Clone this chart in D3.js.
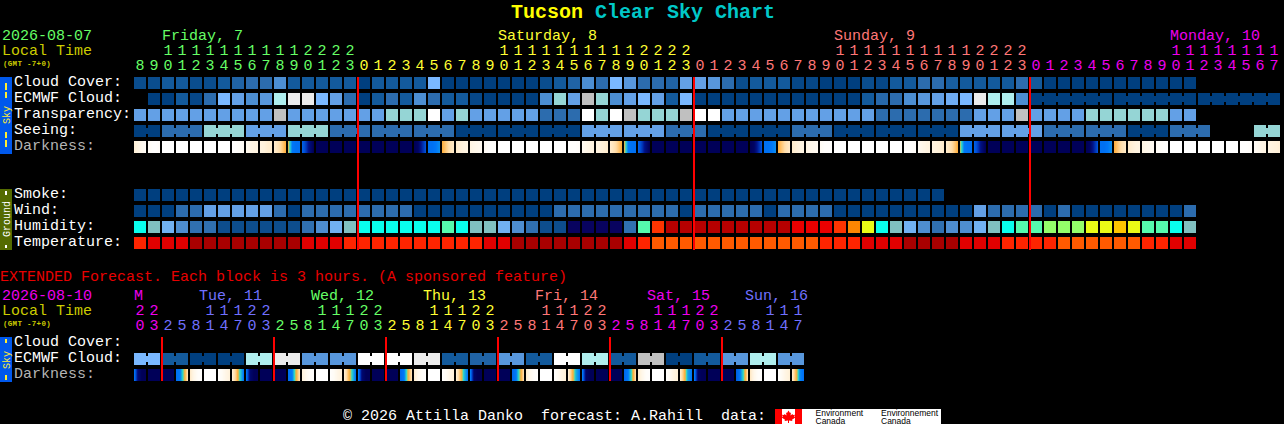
<!DOCTYPE html>
<html><head><meta charset="utf-8">
<script src="https://cdnjs.cloudflare.com/ajax/libs/d3/7.8.5/d3.min.js"></script>
<style>html,body{margin:0;padding:0;background:#000;overflow:hidden}svg{display:block}
text{font-family:"Liberation Mono",monospace;font-size:15px;white-space:pre}</style>
</head><body><svg id="c" width="1284" height="424"></svg>
<script>
// ---------- data ----------
const hours=[8,9,10,11,12,13,14,15,16,17,18,19,20,21,22,23,0,1,2,3,4,5,6,7,8,9,10,11,12,13,14,15,16,17,18,19,20,21,22,23,0,1,2,3,4,5,6,7,8,9,10,11,12,13,14,15,16,17,18,19,20,21,22,23,0,1,2,3,4,5,6,7,8,9,10,11,12,13,14,15,16,17];
const hourDay=[0,0,0,0,0,0,0,0,0,0,0,0,0,0,0,0,1,1,1,1,1,1,1,1,1,1,1,1,1,1,1,1,1,1,1,1,1,1,1,1,2,2,2,2,2,2,2,2,2,2,2,2,2,2,2,2,2,2,2,2,2,2,2,2,3,3,3,3,3,3,3,3,3,3,3,3,3,3,3,3,3,3];
const dayNames=["Friday, 7","Saturday, 8","Sunday, 9","Monday, 10"];
const dayStart=[2,26,50,74];
const dayColors=["#66ff66","#ffff33","#ff7777","#ee00ee"];
const cloudCover=[5,5,10,10,5,5,10,15,20,20,30,10,10,10,10,10,0,10,10,10,10,50,0,0,0,0,0,0,0,5,10,15,30,20,50,35,20,20,15,40,40,35,20,5,10,10,10,3,3,0,0,0,5,3,10,10,20,20,12,10,10,10,10,20,10,0,0,0,0,0,0,0,0,0,0,0];
const ecmwfCloud=[null,0,0,10,3,20,50,40,30,35,70,90,90,50,40,20,0,10,20,10,30,20,10,10,3,0,0,0,0,30,60,40,80,60,30,40,50,40,10,50,0,0,0,0,0,0,0,0,0,0,0,0,10,18,20,30,35,40,45,50,90,70,70,30,0,0,0,0,0,0,0,0,0,0,0,0,0,0,0,0,0,0];
const ecmwfSpanStart=64, ecmwfSpans=[6,6,6];
const transparency=[40,40,40,40,40,40,40,40,40,40,80,40,40,40,40,40,40,40,60,60,60,100,40,60,40,40,40,40,40,20,20,20,100,60,100,80,60,60,60,80,100,100,40,40,40,40,40,40,40,40,40,40,40,20,20,20,20,20,20,20,40,40,40,80,40,40,40,40,60,60,60,60,60,60,40,40];
const seeing=[0,0,20,20,20,60,60,60,40,40,40,60,60,60,20,20,20,20,20,20,20,20,20,0,0,0,0,0,0,0,0,0,40,40,40,40,40,40,20,20,20,0,0,0,0,0,0,20,20,20,0,0,0,0,0,0,0,0,0,40,40,40,40,40,40,20,20,20,20,20,20,0,0,0,20,20,20,null,null,null,60,60];
const seeingSpans=[2,3,3,3,3,3,3,3,3,3,3,3,3,3,3,3,3,3,3,3,3,3,3,3,3,3,3,2];
const W=[0,0,0,0], N=[8,8,8,8];
const darkness=[[1.1,.8,.5,.3],[.3,.1,.05,.2],W,W,W,W,W,[.05,.1,.2,.3],[.5,.7,.8,.9],[.9,1,1.2,1.3],[1.3,1.7,2.3,3],[3.4,5,5.2,5.2],[5.6,6.4,7.4,8],N,N,N,N,N,N,N,[8,7.8,6.8,6],[5.2,5.2,5,4.8],[3,2.4,1.8,1.4],[1.3,1.1,.9,.8],[.8,.6,.5,.4],[.3,.1,.1,.1],W,W,W,W,W,[.05,.1,.1,.2],[.4,.6,.8,.9],[.9,1,1.1,1.3],[1.3,1.7,2.3,3],[3.4,5,5.2,5.2],[5.6,6.4,7.4,8],N,N,N,N,N,N,N,[8,7.8,6.8,6],[5.2,5.2,5,4.8],[3,2.4,1.8,1.4],[1.3,1.1,.9,.8],[.8,.6,.5,.4],[.3,.1,.1,.1],W,W,W,W,W,[.05,.1,.1,.2],[.4,.6,.8,.9],[.9,1,1.1,1.3],[1.3,1.7,2.3,3],[3.6,5,5.2,5.2],[5.6,6.4,7.4,8],N,N,N,N,N,N,N,[8,7.8,6.8,6],[5.2,5.2,5,4.8],[3,2.4,1.8,1.4],[1.3,1.1,.9,.8],[.8,.6,.5,.4],[.3,.2,.1,.1],W,W,W,W,W,[.05,.05,.1,.2],[.3,.5,.7,.8],[.8,.9,1,1.1]];
const smoke=[0,0,0,0,0,0,0,0,0,0,0,0,0,0,0,0,0,0,0,0,0,0,0,0,0,0,0,0,0,0,0,0,0,0,0,0,0,0,0,0,0,0,0,0,0,0,0,0,0,0,0,0,0,0,0,0,0,0];
const wind=[0,0,0,20,20,40,40,40,40,40,20,0,20,20,20,20,20,20,20,20,0,0,0,0,0,0,0,0,0,0,20,20,20,20,20,20,20,20,20,0,20,20,20,20,20,0,20,20,20,20,0,0,0,0,0,0,0,0,0,0,40,20,20,20,20,0,20,0,0,0,0,0,0,0,0,20];
const humidity=[52,47,42,37,32,32,27,27,27,27,27,27,32,37,42,47,52,52,52,52,52,52,57,52,47,47,42,37,32,27,27,22,22,22,22,32,57,82,92,92,92,92,92,92,92,92,92,87,87,87,82,77,67,52,47,42,37,32,37,37,42,47,52,57,57,62,62,62,67,67,72,67,57,57,52,47];
const temperature=[34,32,32,32,30,30,30,30,30,30,30,30,32,32,32,34,34,34,34,34,34,34,34,34,34,32,32,30,30,30,30,30,30,30,30,32,34,36,36,36,36,36,36,36,36,36,36,36,36,34,34,34,32,32,32,30,30,30,30,32,32,32,34,34,34,34,36,36,36,36,36,36,34,34,32,32];

const extDate="2026-08-10";
const extHours=[20,23,2,5,8,11,14,17,20,23,2,5,8,11,14,17,20,23,2,5,8,11,14,17,20,23,2,5,8,11,14,17,20,23,2,5,8,11,14,17,20,23,2,5,8,11,14,17];
const extHourDay=[0,0,1,1,1,1,1,1,1,1,2,2,2,2,2,2,2,2,3,3,3,3,3,3,3,3,4,4,4,4,4,4,4,4,5,5,5,5,5,5,5,5,6,6,6,6,6,6];
const extDayNames=["M","Tue, 11","Wed, 12","Thu, 13","Fri, 14","Sat, 15","Sun, 16"];
const extDayStart=[0,5,13,21,29,37,44];
const extDayColors=["#ee00ee","#7070ff","#66ff66","#ffff33","#ff7777","#ee00ee","#7070ff"];
const extCloud=[50,10,0,0,70,90,35,35,100,100,90,10,15,35,10,100,70,10,80,0,10,35,70,35];
const extDarkness=[[5.2,7.5,8,8],N,N,[5.2,5,3.6,1.8],[1.3,.6,.2,.1],W,[.1,.3,.7,1],[1.2,2.4,4,5],[5.2,7.6,8,8],N,N,[5.2,5,3.4,1.8],[1,.5,.2,.1],W,[.1,.3,.7,1],[1.2,2.6,4,5],[5,7.6,8,8],N,N,[5.4,5,3.4,1.8],[1.2,.5,.2,.1],W,[.1,.3,.7,1],[1.2,2.6,4.2,5],[5,7.8,8,8],N,N,[5.4,5,3.6,2],[1.2,.5,.2,.1],W,[.1,.4,.8,1.1],[1.2,2.8,4.4,5],[5,7.8,8,8],N,N,[5.4,5,3.8,2],[1.2,.6,.2,.1],W,[.1,.4,.8,1.1],[1.4,2.8,4.6,5],[5,7.8,8,8],N,N,[5.6,5,3.8,2],[1.4,.6,.2,.1],W,[.1,.4,.8,1.1],[1.4,3,4.8,5.2]];

// ---------- scales ----------
const x=d3.scaleLinear().domain([0,1]).range([134,148]);
const cellW=12, cellH=12, rowStep=16;
const cloudColor=d3.scaleLinear().domain([0,10,20,30,40,50,60,70,80,90,100])
  .range(["#003f7f","#135a9c","#2c6cae","#4c8ed2","#63a0e6","#7ab8ff","#95d5d5","#afeeee","#c0c0c0","#ebebeb","#ffffff"]).clamp(true);
const humColor=d3.scaleThreshold().domain([25,30,35,40,45,50,55,60,65,70,75,80,85,90])
  .range(["#08035f","#0d4d8d","#3070b0","#4e8ed0","#71b1f1","#80c0c0","#09feed","#55faad","#94fe6a","#eafb16","#fec600","#fc8602","#fe3401","#ea0000","#b70000"]);
const tempColor=d3.scaleOrdinal().domain([30,32,34,36]).range(["#a80000","#e10000","#fe2400","#ff5a00"]);
const darkColor=d3.scaleLinear().domain([0,1,2,3,3.5,4,5,6,7,8])
  .range(["#ffffff","#fff2dc","#ffdca6","#ffb040","#c0c060","#30d8c8","#0078f8","#0050d8","#00148c","#000058"]).clamp(true);

const svg=d3.select("#c");
svg.append("rect").attr("width",1284).attr("height",424).attr("fill","#000");
const marks=svg.append("g").attr("shape-rendering","crispEdges");

function cells(vals,y,color){
  marks.append("g").selectAll("rect").data(vals.map((v,i)=>({v,i})).filter(d=>d.v!==null)).join("rect")
    .attr("x",d=>x(d.i)).attr("y",y).attr("width",cellW).attr("height",cellH).attr("fill",d=>color(d.v));
}
function necks(vals,y,color,spans,start=0){
  let i=start;
  spans.forEach(s=>{
    for(let k=i;k<i+s-1;k++){
      if(vals[k]===null||vals[k+1]===null) continue;
      marks.append("rect").attr("x",x(k)+cellW).attr("y",y+3).attr("width",x(1)-x(0)-cellW).attr("height",cellH-6).attr("fill",color(vals[k]));
    }
    i+=s;
  });
}
function shaded(vals,y){
  vals.forEach((s,i)=>{
    const t=d3.scaleLinear().domain([0,1/3,2/3,1]).range(s);
    d3.range(cellW).forEach(p=>{
      marks.append("rect").attr("x",x(i)+p).attr("y",y).attr("width",1).attr("height",cellH)
        .attr("fill",darkColor(t(p/(cellW-1))));
    });
  });
}
function label(s,xp,y,fill,extra={}){
  const t=svg.append("text").attr("x",xp).attr("y",y).attr("fill",fill).text(s);
  Object.entries(extra).forEach(([k,v])=>t.style(k,v));
  return t;
}
function rowLabels(list,y0){
  list.forEach((s,k)=>label(s[0],14,y0+k*rowStep,s[1]));
}
function hourText(hs,days,colors,yTens,yUnits){
  hs.forEach((h,i)=>{
    const c=colors[days[i]], cx=x(i)+cellW/2;
    if(h>=10) label(String(Math.floor(h/10)),cx,yTens,c).attr("text-anchor","middle");
    label(String(h%10),cx,yUnits,c).attr("text-anchor","middle");
  });
}
function sideBar(y0,y1,fill,txt,txtFill,yc,dashes){
  marks.append("rect").attr("x",0).attr("y",y0).attr("width",12).attr("height",y1-y0).attr("fill",fill);
  dashes.forEach(d=>marks.append("rect").attr("x",5).attr("y",d[0]).attr("width",1.5).attr("height",d[1]-d[0]).attr("fill",txtFill));
  svg.append("text").attr("transform",`translate(9.5,${yc}) rotate(-90)`).attr("text-anchor","middle")
    .attr("fill",txtFill).style("font-size","10px").text(txt);
}
const gmtStyle={"font-size":"7.5px","font-weight":"bold","letter-spacing":"0.3px"};

// ---------- title ----------
const title=svg.append("text").attr("x",511).attr("y",18).style("font-size","20px").style("font-weight","bold");
title.append("tspan").attr("fill","#ffff00").text("Tucson ");
title.append("tspan").attr("fill","#00c8c8").text("Clear Sky Chart");

// ---------- main header ----------
label("2026-08-07",2,40,dayColors[0]);
label("Local Time",2,55,"#cccc00");
label("(GMT -7+0)",3,65.5,"#cccc00",gmtStyle);
dayNames.forEach((n,k)=>label(n,x(dayStart[k]),40,dayColors[k]));
hourText(hours,hourDay,dayColors,55,70);

// ---------- main rows ----------
rowLabels([["Cloud Cover:","#fff"],["ECMWF Cloud:","#fff"],["Transparency:","#fff"],["Seeing:","#fff"],["Darkness:","#b4b4b4"]],86);
rowLabels([["Smoke:","#fff"],["Wind:","#fff"],["Humidity:","#fff"],["Temperature:","#fff"]],198);
cells(cloudCover,77,cloudColor);
cells(ecmwfCloud,93,cloudColor); necks(ecmwfCloud,93,cloudColor,ecmwfSpans,ecmwfSpanStart);
cells(transparency,109,cloudColor);
cells(seeing,125,cloudColor); necks(seeing,125,cloudColor,seeingSpans);
shaded(darkness,141);
cells(smoke,189,cloudColor);
cells(wind,205,cloudColor);
cells(humidity,221,humColor);
cells(temperature,237,tempColor);

sideBar(77,154,"#0058ec","Sky","#ffee33",115,[[83,90],[92,98],[132,138],[140,147]]);
sideBar(189,250,"#546b00","Ground","#ffffff",219,[[191,195],[245,248]]);

// midnight markers
hours.forEach((h,i)=>{ if(h===0) marks.append("rect").attr("x",x(i)-1).attr("y",77).attr("width",2).attr("height",173).attr("fill","#f00"); });

// ---------- extended ----------
label("EXTENDED Forecast. Each block is 3 hours. (A sponsored feature)",0,281,"#e80000");
label(extDate,2,300,extDayColors[0]);
label("Local Time",2,315,"#cccc00");
label("(GMT -7+0)",3,325.5,"#cccc00",gmtStyle);
extDayNames.forEach((n,k)=>label(n,x(extDayStart[k])-(k?5:0),300,extDayColors[k]));
hourText(extHours,extHourDay,extDayColors,315,330);
rowLabels([["Cloud Cover:","#fff"],["ECMWF Cloud:","#fff"],["Darkness:","#b4b4b4"]],346);
const extPerCell=extCloud.flatMap(v=>[v,v]);
cells(extPerCell,353,cloudColor); necks(extPerCell,353,cloudColor,extCloud.map(()=>2));
shaded(extDarkness,369);
sideBar(337,382,"#0058ec","Sky","#ffee33",360,[[339,343],[375,380]]);
extHours.forEach((h,i)=>{ if(i>0&&h<extHours[i-1]) marks.append("rect").attr("x",x(i)-1).attr("y",337).attr("width",2).attr("height",44).attr("fill","#f00"); });

// ---------- footer ----------
label("\u00a9 2026 Attilla Danko  forecast: A.Rahill  data:",343,420,"#fff");
const logo=svg.append("g");
logo.append("rect").attr("x",775).attr("y",409).attr("width",166).attr("height",15).attr("fill","#fff").attr("shape-rendering","crispEdges");
logo.append("rect").attr("x",775).attr("y",409).attr("width",7).attr("height",15).attr("fill","#f00").attr("shape-rendering","crispEdges");
logo.append("rect").attr("x",795).attr("y",409).attr("width",7).attr("height",15).attr("fill","#f00").attr("shape-rendering","crispEdges");
logo.append("path").attr("fill","#f00").attr("d","M788.5 410.5l1.5 2.5 1-.5-.5 3 2-1.5 .5 1 2-.3-.7 2 1 .8-3.3 2.2 .4 1.3-3.4-.5v2.5h-1v-2.5l-3.4.5 .4-1.3-3.3-2.2 1-.8-.7-2 2 .3 .5-1 2 1.5-.5-3 1 .5z");
[["Environment","Canada",815.5],["Environnement","Canada",881]].forEach(a=>{
  logo.append("text").attr("x",a[2]).attr("y",416).attr("fill","#000").style("font-family","'Liberation Sans'").style("font-size","8.5px").text(a[0]);
  logo.append("text").attr("x",a[2]).attr("y",423.5).attr("fill","#000").style("font-family","'Liberation Sans'").style("font-size","8.5px").text(a[1]);
});
</script></body></html>
